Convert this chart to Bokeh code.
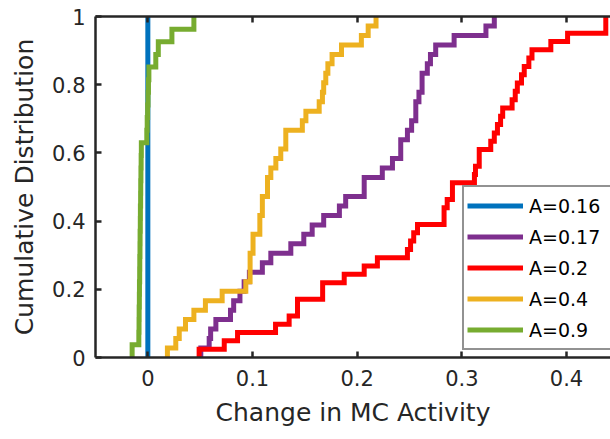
import numpy as np
from bokeh.plotting import figure
from bokeh.models import LinearAxis, FixedTicker, CustomJSTickFormatter
from bokeh.embed import file_html
from bokeh.resources import INLINE

# Change in MC activity, one sample per cell, for each value of A
labels = ["A=0.16", "A=0.17", "A=0.2", "A=0.4", "A=0.9"]
colors = ["#0072BD", "#7E2F8E", "#FF0000", "#EDB120", "#77AC30"]

a_016 = [0.0] * 20

a_017 = [0.0506, 0.0586, 0.060, 0.065, 0.079, 0.082, 0.088, 0.092, 0.097,
         0.1094, 0.1175, 0.1366, 0.149, 0.157, 0.168, 0.183, 0.189,
         0.2067, 0.2067, 0.224, 0.2337, 0.2416, 0.2416, 0.248, 0.252,
         0.256, 0.256, 0.259, 0.262, 0.262, 0.267, 0.270, 0.275, 0.2926,
         0.323, 0.331]

a_02 = [0.049, 0.073, 0.0857, 0.122, 0.135, 0.143, 0.143, 0.167, 0.167,
        0.1876, 0.2067, 0.2193, 0.248, 0.251, 0.254, 0.2576, 0.283, 0.283,
        0.286, 0.291, 0.291, 0.312, 0.313, 0.3166, 0.3166, 0.3276, 0.331,
        0.334, 0.337, 0.339, 0.348, 0.351, 0.353, 0.357, 0.3596, 0.364,
        0.367, 0.385, 0.401, 0.4375, 0.4375]

a_04 = [0.0187, 0.0267, 0.030, 0.036, 0.044, 0.055, 0.071, 0.0936, 0.0977,
        0.0977, 0.0977, 0.1005, 0.1005, 0.107, 0.107, 0.1094, 0.1094,
        0.1143, 0.1143, 0.1175, 0.1223, 0.127, 0.1318, 0.1318, 0.1476,
        0.151, 0.1637, 0.1668, 0.168, 0.170, 0.172, 0.176, 0.185, 0.204,
        0.2105, 0.218]

a_09 = [-0.015, -0.0086, -0.0084, -0.0083, -0.0081, -0.0080, -0.0078,
        -0.0077, -0.0075, -0.0074, -0.0072, -0.0071, -0.0069, -0.0068,
        -0.0066, -0.0064, -0.0062, -0.0010, -0.0006, -0.0002, 0.0002,
        0.0006, 0.0010, 0.0076, 0.010, 0.023, 0.044]

series = [a_016, a_017, a_02, a_04, a_09]

x_ticks = [0, 0.1, 0.2, 0.3, 0.4]
y_ticks = [0, 0.2, 0.4, 0.6, 0.8, 1.0]

FONT = "DejaVu Sans"
INK = "#262626"


def ecdf_stairs(samples):
    """Staircase path of the empirical CDF, starting at F=0."""
    s = np.sort(np.asarray(samples, dtype=float))
    u, counts = np.unique(s, return_counts=True)
    F = np.cumsum(counts) / len(s)
    xs, ys, prev = [], [], 0.0
    for xi, fi in zip(u, F):
        xs += [xi, xi]
        ys += [prev, fi]
        prev = fi
    return xs, ys


p = figure(width=610, height=439, output_backend="svg", toolbar_location=None,
           x_range=(-0.05, 0.442), y_range=(0, 1),
           min_border_left=95, min_border_right=0,
           min_border_top=16, min_border_bottom=82)
p.outline_line_color = None
p.grid.visible = False
p.background_fill_color = "white"
p.border_fill_color = "white"

for lab, col, data in zip(labels, colors, series):
    xs, ys = ecdf_stairs(data)
    p.line(xs, ys, line_color=col, line_width=5, line_join="miter",
           legend_label=lab)

fmt = CustomJSTickFormatter(code="return String(Math.round(tick * 10) / 10);")

for ax, ticks in ((p.xaxis[0], x_ticks), (p.yaxis[0], y_ticks)):
    ax.ticker = FixedTicker(ticks=ticks)
    ax.formatter = fmt
    ax.minor_tick_line_color = None
    ax.major_tick_in = 6
    ax.major_tick_out = 0
    ax.major_tick_line_width = 2.5
    ax.major_tick_line_color = INK
    ax.axis_line_width = 2.5
    ax.axis_line_color = INK
    ax.major_label_text_font = FONT
    ax.major_label_text_font_size = "21px"
    ax.major_label_text_color = INK
    ax.axis_label_text_font = FONT
    ax.axis_label_text_font_size = "25px"
    ax.axis_label_text_font_style = "normal"
    ax.axis_label_text_color = INK

p.xaxis.axis_label = "Change in MC Activity"
p.yaxis.axis_label = "Cumulative Distribution"
p.xaxis.major_label_standoff = 12
p.yaxis.major_label_standoff = 10
p.xaxis.axis_label_standoff = 9
p.yaxis.axis_label_standoff = 10

# box edge along the top with inward ticks
top = LinearAxis(ticker=FixedTicker(ticks=x_ticks), formatter=fmt,
                 major_tick_in=6, major_tick_out=0, major_tick_line_width=2.5,
                 major_tick_line_color=INK, minor_tick_line_color=None,
                 axis_line_width=2.5, axis_line_color=INK,
                 major_label_text_font_size="1px", major_label_text_alpha=0,
                 major_label_standoff=0)
p.add_layout(top, "above")

leg = p.legend[0]
leg.location = (367, 7)
leg.margin = 0
leg.padding = 3
leg.spacing = 0
leg.glyph_width = 56
leg.glyph_height = 31
leg.label_height = 31
leg.label_width = 80
leg.label_standoff = 6
leg.label_text_font = FONT
leg.label_text_font_size = "19px"
leg.label_text_color = "black"
leg.border_line_color = INK
leg.border_line_width = 2.5
leg.background_fill_alpha = 1
leg.background_fill_color = "white"

open("out.html", "w").write(file_html(p, INLINE))
